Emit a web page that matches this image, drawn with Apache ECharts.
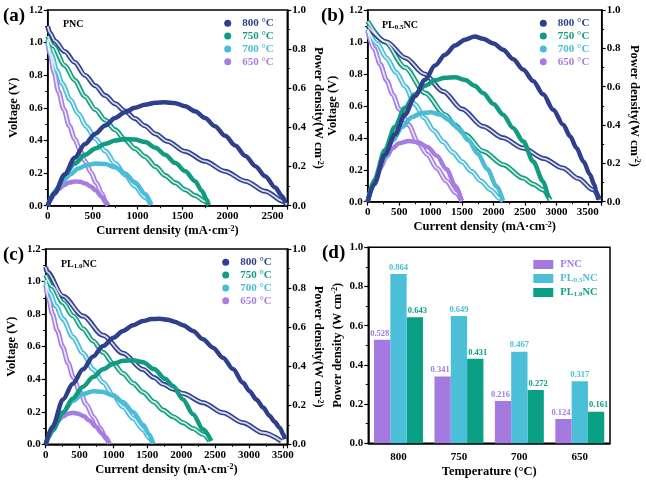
<!DOCTYPE html>
<html><head><meta charset="utf-8">
<style>html,body{margin:0;padding:0;background:#fff}#c{width:646px;height:483px}</style>
<script src="https://cdn.jsdelivr.net/npm/echarts@6.0.0/dist/echarts.min.js"></script>
</head><body><div id="c"></div>
<script>
// ---------- Panel (a) PNC : [current mA/cm2, value] ----------
const a800V = [[0,1.10],[25,1.06],[80,1.01],[190,0.945],[300,0.88],[415,0.80],[530,0.735],[640,0.675],[750,0.625],[860,0.58],[970,0.535],[1080,0.49],[1200,0.44],[1330,0.395],[1530,0.333],[1750,0.272],[1970,0.211],[2200,0.15],[2420,0.088],[2620,0.027],[2660,0.005]];
const a800P = [[0,0],[80,0.065],[190,0.16],[300,0.245],[415,0.315],[530,0.368],[640,0.41],[750,0.448],[860,0.478],[970,0.50],[1080,0.516],[1200,0.526],[1300,0.528],[1420,0.524],[1530,0.508],[1640,0.482],[1750,0.448],[1860,0.406],[1975,0.357],[2085,0.308],[2200,0.254],[2310,0.202],[2420,0.15],[2530,0.093],[2605,0.05],[2645,0.014]];
const a750V = [[0,1.04],[60,0.98],[190,0.86],[300,0.77],[415,0.67],[530,0.59],[640,0.525],[750,0.465],[860,0.405],[970,0.35],[1085,0.30],[1200,0.24],[1306,0.185],[1420,0.14],[1530,0.098],[1640,0.062],[1750,0.027],[1790,0.005]];
const a750P = [[0,0],[80,0.07],[190,0.16],[300,0.215],[415,0.26],[530,0.292],[640,0.316],[750,0.333],[860,0.341],[970,0.338],[1085,0.325],[1200,0.296],[1306,0.26],[1420,0.218],[1530,0.176],[1640,0.125],[1715,0.075],[1770,0.031],[1790,0.003]];
const a700V = [[0,1.02],[40,0.93],[100,0.83],[160,0.75],[250,0.65],[340,0.565],[430,0.485],[530,0.41],[640,0.335],[750,0.26],[860,0.19],[970,0.12],[1085,0.05],[1150,0.005]];
const a700P = [[0,0],[50,0.045],[100,0.085],[160,0.12],[250,0.16],[340,0.19],[430,0.207],[530,0.216],[640,0.213],[750,0.196],[860,0.165],[970,0.12],[1085,0.06],[1150,0.005]];
const a650V = [[0,1.00],[30,0.92],[70,0.82],[120,0.70],[180,0.59],[240,0.49],[300,0.41],[360,0.34],[420,0.27],[480,0.205],[540,0.14],[600,0.075],[650,0.02],[670,0.003]];
const a650P = [[0,0],[30,0.028],[70,0.057],[120,0.084],[180,0.105],[240,0.118],[300,0.124],[360,0.122],[420,0.113],[480,0.098],[540,0.076],[600,0.046],[650,0.013],[670,0.002]];

// ---------- Panel (b) PL0.5NC ----------
const b800V = [[0,1.10],[300,1.0],[600,0.90],[900,0.80],[1200,0.69],[1500,0.58],[1830,0.472],[2150,0.40],[2470,0.336],[2800,0.27],[3100,0.211],[3350,0.145],[3580,0.075],[3690,0.012]];
const b800P = [[0,0],[100,0.09],[275,0.245],[430,0.35],[594,0.454],[750,0.55],[912,0.636],[1070,0.71],[1230,0.767],[1390,0.815],[1548,0.845],[1700,0.862],[1834,0.85],[2000,0.825],[2152,0.793],[2310,0.745],[2471,0.689],[2630,0.63],[2789,0.56],[2950,0.48],[3107,0.402],[3220,0.34],[3319,0.28],[3430,0.21],[3531,0.143],[3600,0.09],[3637,0.054],[3665,0.01]];
const b750V = [[0,1.13],[275,1.0],[594,0.84],[912,0.68],[1230,0.545],[1389,0.48],[1550,0.42],[1834,0.316],[2152,0.232],[2471,0.148],[2630,0.11],[2789,0.075],[2900,0.01]];
const b750P = [[0,0],[100,0.11],[275,0.27],[430,0.39],[594,0.49],[750,0.56],[912,0.605],[1070,0.633],[1230,0.647],[1389,0.649],[1550,0.635],[1700,0.605],[1834,0.567],[2000,0.51],[2152,0.454],[2310,0.385],[2471,0.315],[2630,0.21],[2789,0.106],[2870,0.02]];
const b700V = [[0,1.08],[150,0.99],[300,0.90],[450,0.81],[600,0.72],[750,0.61],[900,0.525],[1050,0.445],[1200,0.375],[1350,0.31],[1500,0.25],[1650,0.19],[1800,0.13],[1950,0.075],[2100,0.02],[2150,0.003]];
const b700P = [[0,0],[100,0.10],[250,0.22],[400,0.32],[550,0.39],[700,0.44],[850,0.462],[1000,0.467],[1150,0.455],[1300,0.425],[1450,0.38],[1600,0.32],[1750,0.25],[1900,0.17],[2050,0.08],[2150,0.005]];
const b650V = [[0,1.07],[100,0.96],[200,0.86],[300,0.76],[400,0.67],[500,0.58],[650,0.48],[800,0.37],[950,0.295],[1100,0.21],[1250,0.13],[1400,0.055],[1495,0.003]];
const b650P = [[0,0],[100,0.095],[200,0.175],[300,0.235],[400,0.28],[500,0.305],[650,0.317],[800,0.31],[950,0.285],[1100,0.24],[1250,0.17],[1400,0.08],[1495,0.005]];

// ---------- Panel (c) PL1.0NC ----------
const c800V = [[0,1.09],[20,1.06],[255,0.91],[551,0.788],[846,0.67],[1141,0.56],[1437,0.46],[1600,0.41],[1732,0.37],[1880,0.34],[2027,0.312],[2322,0.256],[2618,0.194],[2913,0.133],[3208,0.071],[3479,0.02]];
const c800P = [[0,0],[100,0.09],[255,0.23],[400,0.31],[551,0.384],[700,0.45],[846,0.503],[1000,0.545],[1141,0.58],[1290,0.61],[1437,0.631],[1560,0.641],[1680,0.643],[1800,0.638],[1900,0.628],[2027,0.61],[2175,0.58],[2322,0.538],[2470,0.495],[2618,0.443],[2765,0.385],[2913,0.315],[3010,0.272],[3110,0.23],[3210,0.188],[3307,0.145],[3380,0.115],[3455,0.085],[3510,0.05],[3530,0.026]];
const c750V = [[0,1.04],[100,0.97],[255,0.87],[400,0.79],[551,0.71],[700,0.635],[846,0.565],[1000,0.495],[1141,0.435],[1290,0.375],[1437,0.32],[1600,0.26],[1732,0.21],[1880,0.17],[2027,0.133],[2175,0.097],[2322,0.061],[2421,0.02]];
const c750P = [[0,0],[100,0.07],[255,0.162],[400,0.235],[551,0.295],[700,0.345],[846,0.384],[1000,0.412],[1141,0.428],[1289,0.431],[1437,0.42],[1600,0.385],[1762,0.335],[1880,0.298],[2027,0.23],[2175,0.154],[2322,0.077],[2445,0.017]];
const c700V = [[0,1.01],[60,0.93],[150,0.85],[255,0.77],[400,0.66],[551,0.56],[700,0.46],[846,0.38],[1000,0.30],[1141,0.23],[1290,0.16],[1437,0.09],[1530,0.04],[1584,0.005]];
const c700P = [[0,0],[60,0.05],[150,0.11],[255,0.165],[400,0.222],[551,0.258],[700,0.272],[846,0.268],[1000,0.25],[1141,0.215],[1290,0.165],[1437,0.10],[1530,0.05],[1584,0.005]];
const c650V = [[0,0.98],[40,0.90],[100,0.80],[170,0.70],[250,0.60],[330,0.50],[410,0.41],[500,0.325],[600,0.245],[700,0.17],[800,0.10],[880,0.045],[940,0.005]];
const c650P = [[0,0],[50,0.04],[100,0.075],[170,0.115],[250,0.142],[330,0.157],[400,0.161],[480,0.157],[560,0.145],[650,0.12],[740,0.09],[830,0.055],[900,0.025],[940,0.003]];

// ---------- Panel (d) peak power density ----------
const temps = ['800','750','700','650'];
const pncPeak  = [0.528,0.341,0.216,0.124];
const pl05Peak = [0.864,0.649,0.467,0.317];
const pl10Peak = [0.643,0.431,0.272,0.161];
const barNames = ['PNC','PL0.5NC','PL1.0NC'];

const FONT = '"Liberation Serif", "Times New Roman", serif';
const COL = {'800':'#2e3f8c','750':'#119c80','700':'#4abcd7','650':'#a67de1'};
const BARCOL = ['#a47ae0','#4bbfd8','#0aa085'];
const SUP = {sup:{fontFamily:FONT, fontWeight:'bold', fontSize:8, verticalAlign:'top', color:'#000'}};
const SUB = (c, fs) => ({sub:{fontFamily:FONT, fontWeight:'bold', fontSize:fs, verticalAlign:'bottom', color:c, padding:[5,0,0,0]}});

const grids = [
  {left:47.7, top:10, width:239.6, height:195.7},
  {left:367.7, top:10, width:234, height:191.7},
  {left:45.7, top:249, width:241.6, height:195.3},
  {left:368.3, top:247.3, width:241.7, height:196}
].map(g => Object.assign(g, {show:true, borderColor:'#000', borderWidth:1.5, backgroundColor:'transparent', containLabel:false, outerBoundsMode:'none'}));

const lab = {fontFamily:FONT, fontWeight:'bold', fontSize:11, color:'#000'};
const nameSt = {fontFamily:FONT, fontWeight:'bold', fontSize:12.5, color:'#000', rich:SUP};
const axLine = {show:true, onZero:false, lineStyle:{color:'#000', width:1.5}};
const tick = {show:true, length:4, lineStyle:{color:'#000', width:1.2}};
const minor = {show:true, splitNumber:2, length:2.5, lineStyle:{color:'#000', width:1}};

function xVal(gi, max) {
  return {type:'value', gridIndex:gi, min:0, max:max, interval:500,
    name:'Current density (mA·cm{sup|-2})', nameLocation:'middle', nameGap:19, nameTextStyle:nameSt,
    axisLine:axLine, axisTick:tick, minorTick:minor, splitLine:{show:false},
    axisLabel:Object.assign({margin:5, formatter:v => (v % 500 === 0 ? String(v) : '')}, lab)};
}
function yLeft(gi, gap) {
  return {type:'value', gridIndex:gi, position:'left', min:0, max:1.2, interval:0.2,
    name:'Voltage (V)', nameLocation:'middle', nameGap:gap, nameTextStyle:nameSt,
    axisLine:axLine, axisTick:tick, minorTick:minor, splitLine:{show:false},
    axisLabel:Object.assign({margin:5, formatter:v => v.toFixed(1)}, lab)};
}
function yRight(gi, gap) {
  return {type:'value', gridIndex:gi, position:'right', min:0, max:1.0, interval:0.2,
    name:'Power density(W cm{sup|-2})', nameLocation:'middle', nameGap:gap, nameRotate:-90, nameTextStyle:nameSt,
    axisLine:axLine, axisTick:tick, minorTick:minor, splitLine:{show:false},
    axisLabel:Object.assign({margin:5, formatter:v => v.toFixed(1)}, lab)};
}

const xAxis = [xVal(0, 2665), xVal(1, 3720), xVal(2, 3567),
  {type:'category', gridIndex:3, data:temps,
   name:'Temperature (°C)', nameLocation:'middle', nameGap:22, nameTextStyle:nameSt,
   axisLine:axLine, axisTick:{show:false}, axisLabel:Object.assign({margin:8}, lab)}];
const yAxis = [yLeft(0, 27), yRight(0, 24), yLeft(1, 28), yRight(1, 26), yLeft(2, 27), yRight(2, 24),
  {type:'value', gridIndex:3, min:0, max:1.0, interval:0.2,
   name:'Power density (W cm{sup|-2})', nameLocation:'middle', nameGap:24, nameTextStyle:nameSt,
   axisLine:axLine, axisTick:tick, minorTick:minor, splitLine:{show:false},
   axisLabel:Object.assign({margin:5, formatter:v => v.toFixed(1)}, lab)}];

const panels = [
  {'800':[a800V,a800P],'750':[a750V,a750P],'700':[a700V,a700P],'650':[a650V,a650P]},
  {'800':[b800V,b800P],'750':[b750V,b750P],'700':[b700V,b700P],'650':[b650V,b650P]},
  {'800':[c800V,c800P],'750':[c750V,c750P],'700':[c700V,c700P],'650':[c650V,c650P]}
];
const series = [];
panels.forEach((p, gi) => {
  temps.slice().reverse().forEach(t => {
    const c = COL[t];
    const base = {type:'line', xAxisIndex:gi, symbol:'none', smooth:0.3, smoothMonotone:'x', silent:true};
    series.push(Object.assign({}, base, {name:t+' V'+gi, yAxisIndex:gi*2, data:p[t][0], lineStyle:{color:c, width:5}, itemStyle:{color:c}, z:2}));
    series.push(Object.assign({}, base, {name:t+' Vi'+gi, yAxisIndex:gi*2, data:p[t][0], lineStyle:{color:'#fff', width:1.8, opacity:0.8}, z:3}));
    series.push(Object.assign({}, base, {name:t+' °C', yAxisIndex:gi*2+1, data:p[t][1], lineStyle:{color:c, width:4.5}, itemStyle:{color:c}, z:4}));
  });
});
const labelShift = [-2.5, 0, 2.5];
[pncPeak, pl05Peak, pl10Peak].forEach((d, i) => {
  series.push({type:'bar', name:barNames[i], xAxisIndex:3, yAxisIndex:6, data:d, z:6 - i,
    barGap:'0%', barCategoryGap:'19%', itemStyle:{color:BARCOL[i]},
    label:{show:true, position:'top', distance:2, offset:[labelShift[i], 0], color:BARCOL[i], fontFamily:FONT, fontWeight:'bold', fontSize:8.5,
      formatter:p => p.value.toFixed(3)}});
});

function tempLegend(left, top) {
  return {orient:'vertical', left:left, top:top, padding:0, itemGap:1.8, itemWidth:7, itemHeight:7, icon:'circle',
    itemStyle:{borderWidth:0}, selectedMode:false,
    textStyle:{fontFamily:FONT, fontWeight:'bold', fontSize:11, lineHeight:11, padding:[0,0,0,6]},
    data:temps.map(t => ({name:t+' °C', textStyle:{color:COL[t]}}))};
}
const legend = [tempLegend(224.2, 17.8), tempLegend(539.8, 17.8), tempLegend(222.2, 256.8),
  {orient:'vertical', left:533.3, top:259, padding:0, itemGap:3, itemWidth:20, itemHeight:9, icon:'rect', selectedMode:false,
   itemStyle:{borderWidth:0},
   formatter:n => n === 'PNC' ? 'PNC' : (n === 'PL0.5NC' ? 'PL{sub|0.5}NC' : 'PL{sub|1.0}NC'),
   textStyle:{fontFamily:FONT, fontWeight:'bold', fontSize:10.5, lineHeight:11, padding:[0,0,0,2], rich:{sub:{fontFamily:FONT, fontWeight:'bold', fontSize:7, verticalAlign:'bottom', padding:[4,0,0,0]}}},
   data:barNames.map((n, i) => ({name:n, textStyle:{color:BARCOL[i], rich:{sub:{color:BARCOL[i], fontFamily:FONT, fontWeight:'bold', fontSize:7, verticalAlign:'bottom', padding:[4,0,0,0]}}}}))}
];

const big = {fontFamily:FONT, fontWeight:'bold', fontSize:19, color:'#000'};
const small = {fontFamily:FONT, fontWeight:'bold', fontSize:10, color:'#000', rich:SUB('#000', 7)};
const title = [
  {text:'(a)', left:3, top:7, padding:0, textStyle:big},
  {text:'(b)', left:321, top:7, padding:0, textStyle:big},
  {text:'(c)', left:3, top:246, padding:0, textStyle:big},
  {text:'(d)', left:322, top:244, padding:0, textStyle:big},
  {text:'PNC', left:63, top:19, padding:0, textStyle:small},
  {text:'PL{sub|0.5}NC', left:382, top:19, padding:0, textStyle:small},
  {text:'PL{sub|1.0}NC', left:61, top:258, padding:0, textStyle:small}
];

const chart = echarts.init(document.getElementById('c'), null, {renderer:'canvas'});
chart.setOption({backgroundColor:'#fff', animation:false, grid:grids, xAxis:xAxis, yAxis:yAxis,
  series:series, legend:legend, title:title, tooltip:{show:false}});
</script></body></html>
